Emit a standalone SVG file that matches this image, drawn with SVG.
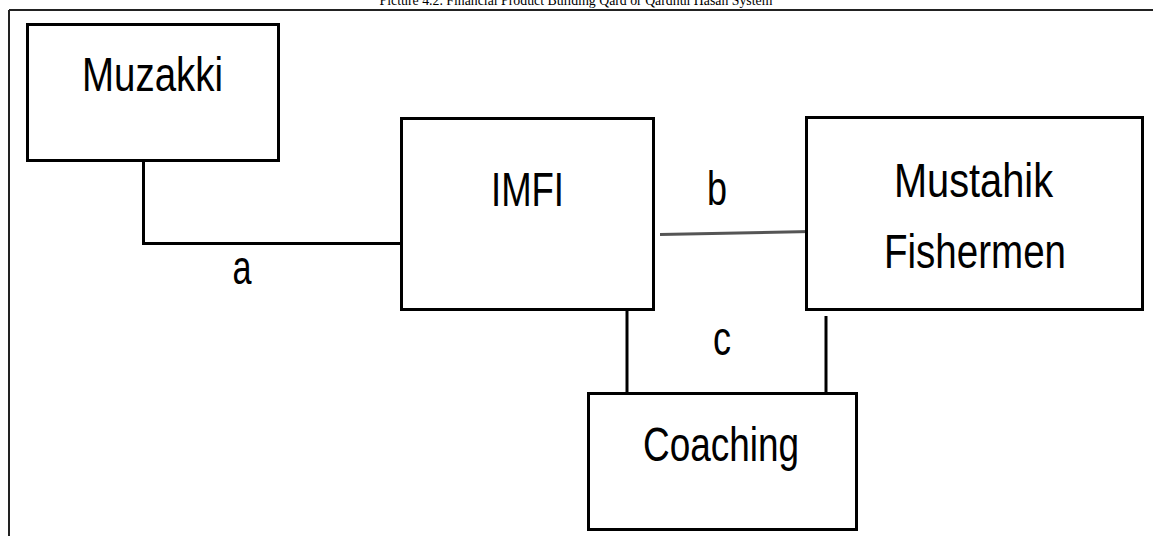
<svg xmlns="http://www.w3.org/2000/svg" width="1153" height="536" viewBox="0 0 1153 536">
<style>
.box{fill:#fff;stroke:#000;stroke-width:3}
.lbl{font-family:"Liberation Sans",Arial,sans-serif;font-size:48px;fill:#000;text-anchor:middle}
.conn{stroke:#000;stroke-width:3;fill:none}
.title{font-family:"Liberation Serif","Times New Roman",serif;font-size:13.8px;fill:#000;text-anchor:middle}
</style>
<rect width="1153" height="536" fill="#fff"/>
<text class="title" x="576" y="5">Picture 4.2. Financial Product Building Qard or Qardhul Hasan System</text>
<g id="frame">
<line x1="9" y1="10" x2="1153" y2="10" stroke="#222" stroke-width="2"/>
<line x1="9" y1="10" x2="9" y2="536" stroke="#222" stroke-width="2"/>
</g>
<g id="connectors">
<polyline class="conn" points="143.5,161 143.5,243.5 402,243.5"/>
<line x1="660" y1="234.5" x2="811" y2="231.5" stroke="#555" stroke-width="3"/>
<line class="conn" x1="627" y1="310" x2="627" y2="392"/>
<line class="conn" x1="826" y1="316" x2="826" y2="392"/>
<text class="lbl" x="242" y="284" textLength="19" lengthAdjust="spacingAndGlyphs">a</text>
<text class="lbl" x="717" y="205" textLength="20" lengthAdjust="spacingAndGlyphs">b</text>
<text class="lbl" x="722" y="355" textLength="18" lengthAdjust="spacingAndGlyphs">c</text>
</g>
<g id="muzakki">
<rect class="box" x="27.5" y="24.5" width="251" height="136"/>
<text class="lbl" x="152.5" y="91" textLength="141" lengthAdjust="spacingAndGlyphs">Muzakki</text>
</g>
<g id="imfi">
<rect class="box" x="401.5" y="118.5" width="252" height="191"/>
<text class="lbl" x="527.5" y="206" textLength="73" lengthAdjust="spacingAndGlyphs">IMFI</text>
</g>
<g id="mustahik">
<rect class="box" x="806.5" y="117.5" width="336" height="192"/>
<text class="lbl" x="973.5" y="197" textLength="159" lengthAdjust="spacingAndGlyphs">Mustahik</text>
<text class="lbl" x="975" y="268" textLength="182" lengthAdjust="spacingAndGlyphs">Fishermen</text>
</g>
<g id="coaching">
<rect class="box" x="588.5" y="393.5" width="268" height="136"/>
<text class="lbl" x="721" y="461" textLength="156" lengthAdjust="spacingAndGlyphs">Coaching</text>
</g>
</svg>
